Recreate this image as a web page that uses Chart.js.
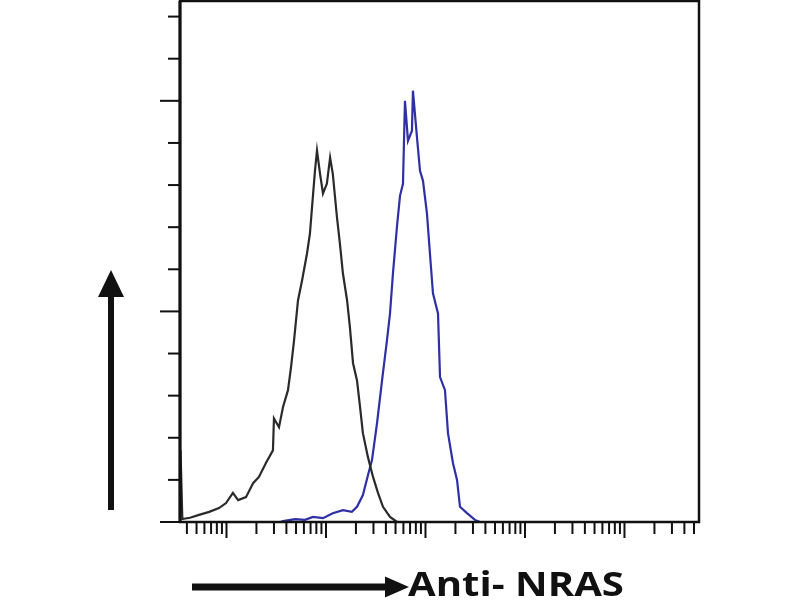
<!DOCTYPE html>
<html>
<head>
<meta charset="utf-8">
<script src="https://cdn.jsdelivr.net/npm/chart.js@4/dist/chart.umd.min.js"></script>
<style>
  body { margin: 0; background: #fff; }
  #caja { position: relative; width: 800px; height: 600px; }
  #etiqueta {
    position: absolute; left: 408px; top: 566px;
    font-family: "Open Sans", sans-serif; font-weight: 700; font-size: 34px;
    line-height: 1; color: #111; white-space: nowrap;
    transform: scaleX(1.18); transform-origin: left top;
  }
</style>
</head>
<body>
<div id="caja">
  <canvas id="myChart" width="800" height="600"></canvas>
  <div id="etiqueta">Anti- NRAS</div>
</div>
<script>
const controlIntensidad = [3.45, 3.6, 4.3, 5.3, 6.7, 8.4, 9.9, 11.6, 13.1, 15.7, 18.5, 21.2, 24.9, 29.3, 30.0, 33.7, 37.0, 41.5, 44.5, 47.7, 52.3, 57.4, 64.4, 69.0, 72.3, 77.5, 81.2, 87.1, 93.3, 102, 110, 117, 129, 138, 148, 163, 174, 187, 205, 220, 235, 264, 297, 333, 374, 440, 518, 600];
const controlConteo = [17, 0.7, 1.0, 1.7, 2.4, 3.3, 4.5, 6.9, 5.2, 5.9, 9.2, 10.7, 14, 17, 24.6, 22.5, 27.3, 31.3, 36.7, 43, 52.6, 57.3, 63.7, 68.5, 74.6, 83.4, 88.2, 82.7, 78, 80.3, 86.5, 82.7, 72.3, 66.1, 59, 52.6, 46.2, 37.7, 33.6, 27.3, 21.1, 15.4, 10.7, 6.9, 3.6, 1.2, 0, 0];

// anti-NRAS (azul)
const nrasIntensidad = [35, 37, 48.8, 61.5, 74, 93.3, 117, 148, 182, 205, 235, 264, 290, 326, 366, 410, 440, 471, 518, 555, 594, 622, 667, 731, 748, 822, 881, 944, 1035, 1109, 1189, 1336, 1400, 1570, 1683, 1888, 2075, 2223, 2612, 3141, 3532];
const nrasConteo = [0, 0.2, 0.7, 0.5, 1.2, 0.9, 2.1, 2.8, 2.4, 3.6, 6.4, 11.1, 14.7, 23.5, 33.6, 43.1, 49.5, 59, 70.4, 77.5, 80.3, 100, 90.5, 92.9, 102.4, 91.2, 83.4, 81, 73.2, 63.7, 54.3, 49.5, 34.4, 31.3, 21.1, 14, 10, 3.6, 2.1, 0.5, 0];

// ejes: decadas del eje log y marcas menores
const decadas = [1, 10, 100, 1000, 10000, 100000];
const multiplos = [1, 2, 3, 4, 5, 6, 7, 8, 9];
const xMin = 3.41;
const xMax = 561000;
const yMax = 123.7;
const yPaso = 10;

const puntos = (xs, ys) => xs.map((v, i) => ({ x: v, y: ys[i] }));

// dibuja marcas del eje, marco y flechas
const ejesFacs = {
  id: 'ejesFacs',
  afterDraw(chart) {
    const { ctx, chartArea: a, scales: { x, y } } = chart;
    const linea = (x1, y1, x2, y2) => {
      ctx.beginPath(); ctx.moveTo(x1, y1); ctx.lineTo(x2, y2); ctx.stroke();
    };
    ctx.save();
    ctx.strokeStyle = '#111';
    ctx.fillStyle = '#111';

    // marco
    ctx.lineWidth = 2.5;
    ctx.strokeRect(a.left, a.top, a.right - a.left, a.bottom - a.top);
    ctx.lineWidth = 3;
    linea(a.left, a.top, a.left, a.bottom);

    // marcas eje y (afuera, largas cada 5)
    ctx.lineWidth = 2;
    y.ticks.forEach((t) => {
      if (t.value % yPaso !== 0) return;
      const py = y.getPixelForValue(t.value);
      const largo = t.value % (yPaso * 5) === 0 ? 20 : 12;
      linea(a.left - largo, py, a.left, py);
    });

    // marcas eje x (abajo)
    x.ticks.forEach((t) => {
      const px = x.getPixelForValue(t.value);
      if (px < a.left - 0.5 || px > a.right + 0.5) return;
      linea(px, a.bottom, px, a.bottom + (t.major ? 16 : 12));
    });

    // flecha vertical
    ctx.fillRect(108, 295, 6, 215);
    ctx.beginPath();
    ctx.moveTo(98, 297); ctx.lineTo(111, 270); ctx.lineTo(124, 297);
    ctx.closePath(); ctx.fill();

    // flecha horizontal
    ctx.fillRect(192, 583.5, 196, 7);
    ctx.beginPath();
    ctx.moveTo(385, 576.5); ctx.lineTo(409, 587); ctx.lineTo(385, 597.5);
    ctx.closePath(); ctx.fill();
    ctx.restore();
  }
};

const ctx = document.getElementById('myChart');
const myChart = new Chart(ctx, {
  type: 'line',
  data: {
    datasets: [{
      label: 'Control',
      data: puntos(controlIntensidad, controlConteo),
      borderColor: '#2a2a2a',
      borderWidth: 2.2,
      tension: 0,
      pointRadius: 0,
      fill: false
    }, {
      label: 'Anti- NRAS',
      data: puntos(nrasIntensidad, nrasConteo),
      borderColor: '#2f2fa6',
      borderWidth: 2.2,
      tension: 0,
      pointRadius: 0,
      fill: false
    }]
  },
  options: {
    responsive: false,
    animation: false,
    devicePixelRatio: 1,
    layout: { padding: { left: 180, right: 101, top: 1, bottom: 78 } },
    plugins: { legend: { display: false }, tooltip: { enabled: false } },
    scales: {
      x: {
        type: 'logarithmic',
        min: xMin,
        max: xMax,
        grid: { display: false, drawTicks: false },
        border: { display: false },
        ticks: { display: false },
        afterBuildTicks: (scale) => {
          const lista = [];
          decadas.forEach((d) => multiplos.forEach((m) => {
            const v = d * m;
            if (v >= xMin && v <= xMax) lista.push({ value: v, major: m === 1 });
          }));
          scale.ticks = lista;
        }
      },
      y: {
        min: 0,
        max: yMax,
        grid: { display: false, drawTicks: false },
        border: { display: false },
        ticks: { display: false, stepSize: yPaso, includeBounds: false }
      }
    }
  },
  plugins: [ejesFacs]
});
</script>
</body>
</html>
